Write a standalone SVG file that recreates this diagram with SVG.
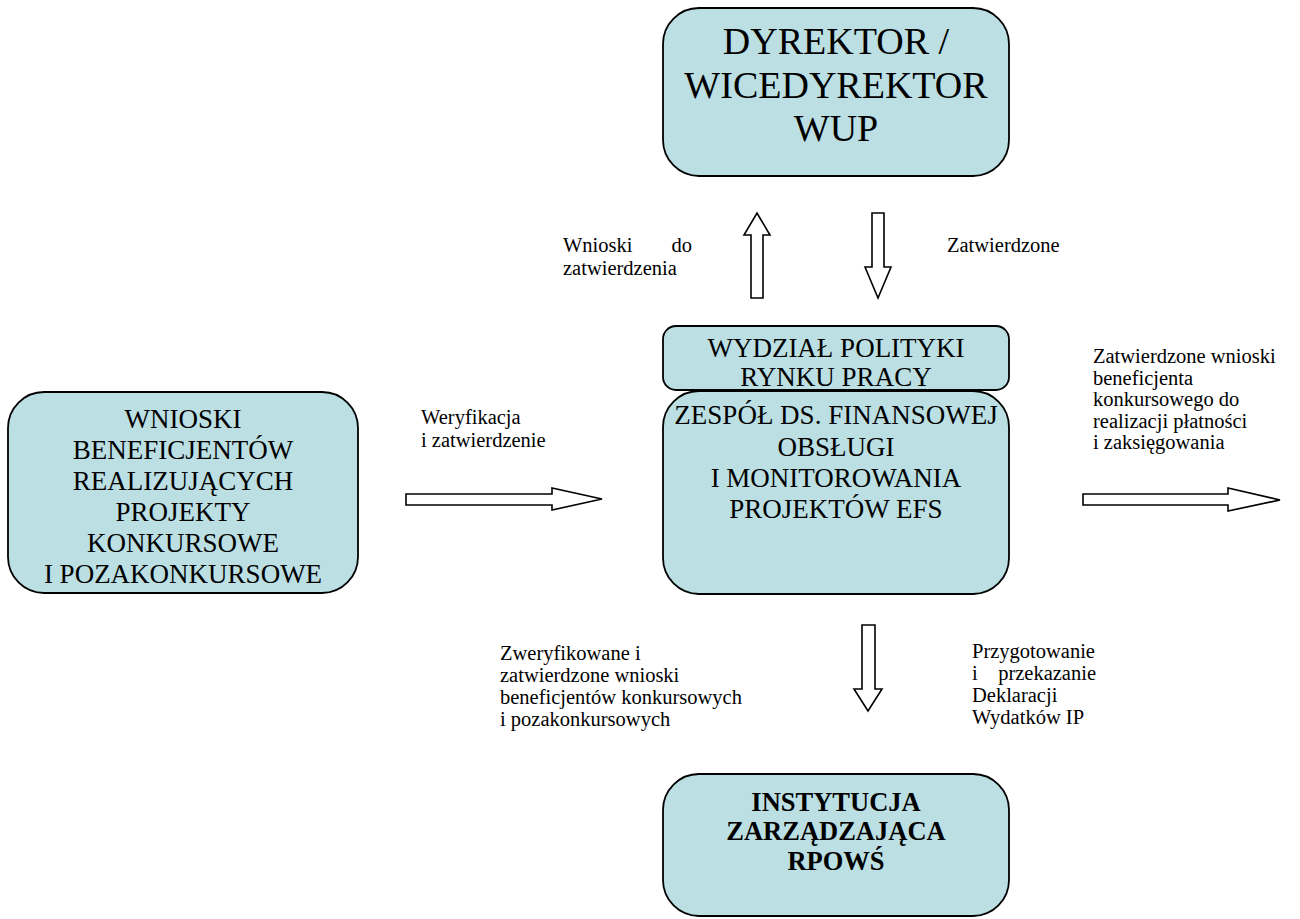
<svg xmlns="http://www.w3.org/2000/svg" width="1300" height="919" viewBox="0 0 1300 919">
<style>
.box{fill:#BBDFE3;stroke:#000;stroke-width:1.8}
.arr{fill:#fff;stroke:#000;stroke-width:1.6;stroke-linejoin:miter}
.bt{font-family:"Liberation Serif","Times New Roman",serif;font-size:27px;fill:#000;text-anchor:middle}
.big{font-size:38px}
.bold{font-weight:bold;font-size:26.5px}
.lb{font-family:"Liberation Serif","Times New Roman",serif;font-size:20.5px;fill:#000}
</style>
<rect width="1300" height="919" fill="#fff"/>
<g id="connectors">
<polygon class="arr" points="751,298 751,235 744,235 757,213 770,235 763,235 763,298"/>
<polygon class="arr" points="872,213 884,213 884,267 891,267 878,298 865,267 872,267"/>
<polygon class="arr" points="406,494 552,494 552,488 602,499 552,510 552,505 406,505"/>
<polygon class="arr" points="1083,494 1228,494 1228,488 1280,500 1228,511 1228,505 1083,505"/>
<polygon class="arr" points="862,625 875,625 875,689 882,689 868,711 854,689 862,689"/>
</g>
<g id="labels">
<text class="lb" x="563" y="252">Wnioski</text>
<text class="lb" x="692" y="252" text-anchor="end">do</text>
<text class="lb" x="563" y="275">zatwierdzenia</text>
<text class="lb" x="947" y="252">Zatwierdzone</text>
<text class="lb" x="421" y="424">Weryfikacja</text>
<text class="lb" x="421" y="447">i zatwierdzenie</text>
<text class="lb" x="1093" y="363">Zatwierdzone wnioski</text>
<text class="lb" x="1093" y="385">beneficjenta</text>
<text class="lb" x="1093" y="406">konkursowego do</text>
<text class="lb" x="1093" y="428">realizacji płatności</text>
<text class="lb" x="1093" y="449">i zaksięgowania</text>
<text class="lb" x="500" y="660">Zweryfikowane i</text>
<text class="lb" x="500" y="682">zatwierdzone wnioski</text>
<text class="lb" x="500" y="704">beneficjentów konkursowych</text>
<text class="lb" x="500" y="726">i pozakonkursowych</text>
<text class="lb" x="972" y="658">Przygotowanie</text>
<text class="lb" x="972" y="680">i</text>
<text class="lb" x="1096" y="680" text-anchor="end">przekazanie</text>
<text class="lb" x="972" y="702">Deklaracji</text>
<text class="lb" x="972" y="724">Wydatków IP</text>
</g>
<g id="dyrektor">
<rect class="box" x="663" y="8" width="346" height="168" rx="36"/>
<text class="bt big" x="836" y="54">DYREKTOR /</text>
<text class="bt big" x="836" y="98">WICEDYREKTOR</text>
<text class="bt big" x="836" y="141">WUP</text>
</g>
<g id="wydzial">
<rect class="box" x="663" y="326" width="346" height="64" rx="13"/>
<text class="bt" x="836" y="357">WYDZIAŁ POLITYKI</text>
<text class="bt" x="836" y="386">RYNKU PRACY</text>
</g>
<g id="zespol">
<rect class="box" x="663" y="391" width="346" height="203" rx="36"/>
<text class="bt" x="836" y="424">ZESPÓŁ DS. FINANSOWEJ</text>
<text class="bt" x="836" y="456">OBSŁUGI</text>
<text class="bt" x="836" y="487">I MONITOROWANIA</text>
<text class="bt" x="836" y="518">PROJEKTÓW EFS</text>
</g>
<g id="wnioski">
<rect class="box" x="8" y="392" width="350" height="201" rx="36"/>
<text class="bt" x="183" y="428">WNIOSKI</text>
<text class="bt" x="183" y="459">BENEFICJENTÓW</text>
<text class="bt" x="183" y="490">REALIZUJĄCYCH</text>
<text class="bt" x="183" y="521">PROJEKTY</text>
<text class="bt" x="183" y="552">KONKURSOWE</text>
<text class="bt" x="183" y="583">I POZAKONKURSOWE</text>
</g>
<g id="instytucja">
<rect class="box" x="663" y="774" width="346" height="142" rx="36"/>
<text class="bt bold" x="836" y="811">INSTYTUCJA</text>
<text class="bt bold" x="836" y="840">ZARZĄDZAJĄCA</text>
<text class="bt bold" x="836" y="870">RPOWŚ</text>
</g>
</svg>
